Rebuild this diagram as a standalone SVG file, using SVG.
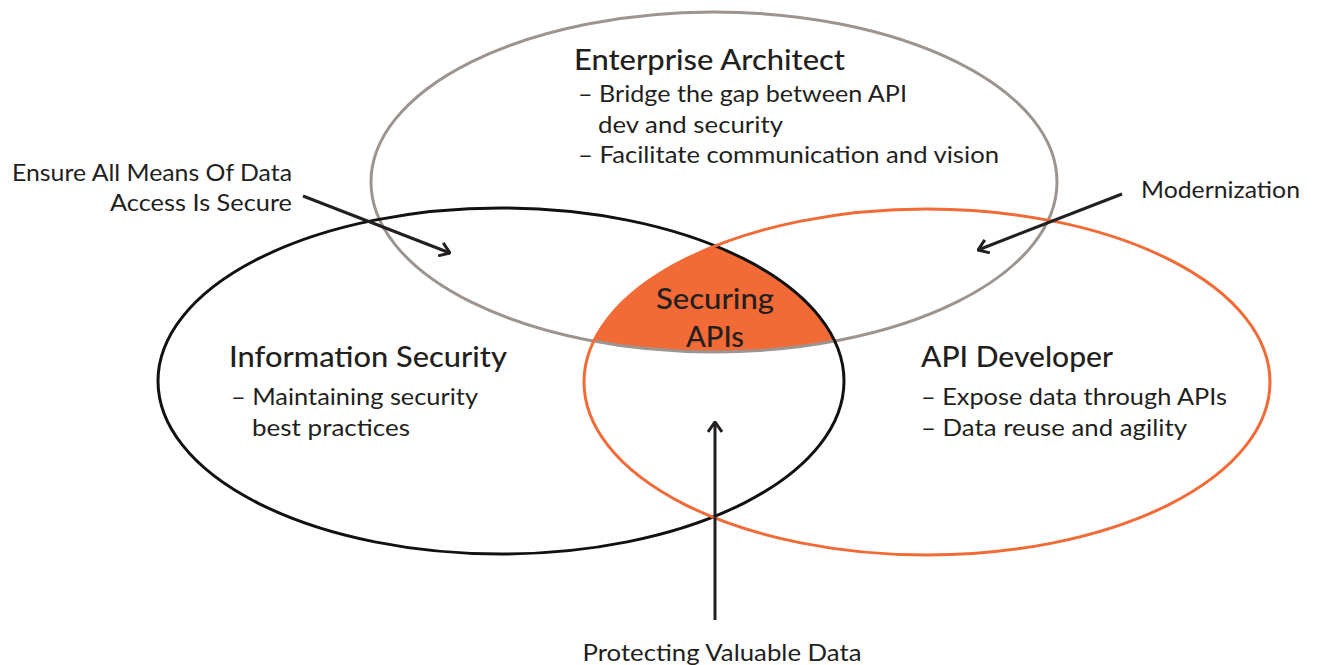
<svg xmlns="http://www.w3.org/2000/svg" width="1317" height="665" viewBox="0 0 1317 665">
  <style>
    .txt { font-family: "Lato", "Liberation Sans", sans-serif; fill: #231f20; }
    .head { font-size: 29.5px; font-weight: 500; }
    .item { font-size: 23.5px; font-weight: 400; }
    .note { font-size: 23px; font-weight: 400; }
    .ring { fill: none; stroke-width: 3; }
    .conn { fill: none; stroke: #231f20; stroke-width: 3; }
  </style>
  <defs>
    <marker id="chev" viewBox="0 0 12 16" refX="11" refY="8" markerWidth="12" markerHeight="16" markerUnits="userSpaceOnUse" orient="auto">
      <path d="M1,1 L11,8 L1,15" fill="none" stroke="#231f20" stroke-width="3"/>
    </marker>
    <clipPath id="clipSec">
      <ellipse cx="501" cy="381" rx="343" ry="173"/>
    </clipPath>
    <clipPath id="clipDev">
      <ellipse cx="927" cy="382" rx="343" ry="173"/>
    </clipPath>
  </defs>

  <rect width="1317" height="665" fill="#ffffff"/>

  <!-- shared region of all three circles -->
  <g id="securing-apis-fill" clip-path="url(#clipSec)">
    <g clip-path="url(#clipDev)">
      <ellipse cx="714" cy="182" rx="343" ry="170" fill="#f26a35"/>
    </g>
  </g>

  <g id="enterprise-architect">
    <ellipse class="ring" cx="714" cy="182" rx="343" ry="170" stroke="#9d948f"/>
    <text class="txt head" x="574" y="70" textLength="271" lengthAdjust="spacingAndGlyphs">Enterprise Architect</text>
    <text class="txt item" x="578" y="102" textLength="329" lengthAdjust="spacingAndGlyphs">– Bridge the gap between API</text>
    <text class="txt item" x="598" y="133" textLength="185" lengthAdjust="spacingAndGlyphs">dev and security</text>
    <text class="txt item" x="578" y="163" textLength="421" lengthAdjust="spacingAndGlyphs">– Facilitate communication and vision</text>
  </g>

  <g id="information-security">
    <ellipse class="ring" cx="501" cy="381" rx="343" ry="173" stroke="#111111"/>
    <text class="txt head" x="229" y="367" textLength="278" lengthAdjust="spacingAndGlyphs">Information Security</text>
    <text class="txt item" x="231" y="405" textLength="247" lengthAdjust="spacingAndGlyphs">– Maintaining security</text>
    <text class="txt item" x="252" y="436" textLength="158" lengthAdjust="spacingAndGlyphs">best practices</text>
  </g>

  <g id="api-developer">
    <ellipse class="ring" cx="927" cy="382" rx="343" ry="173" stroke="#f26a35"/>
    <text class="txt head" x="921" y="367" textLength="192" lengthAdjust="spacingAndGlyphs">API Developer</text>
    <text class="txt item" x="921" y="405" textLength="306" lengthAdjust="spacingAndGlyphs">– Expose data through APIs</text>
    <text class="txt item" x="921" y="436" textLength="266" lengthAdjust="spacingAndGlyphs">– Data reuse and agility</text>
  </g>

  <g id="securing-apis">
    <text class="txt head" x="715" y="309" text-anchor="middle" textLength="118" lengthAdjust="spacingAndGlyphs">Securing</text>
    <text class="txt head" x="715" y="347" text-anchor="middle" textLength="58" lengthAdjust="spacingAndGlyphs">APIs</text>
  </g>

  <g id="labels">
    <text class="txt note" x="292" y="181" text-anchor="end" textLength="280" lengthAdjust="spacingAndGlyphs">Ensure All Means Of Data</text>
    <text class="txt note" x="292" y="211" text-anchor="end" textLength="182" lengthAdjust="spacingAndGlyphs">Access Is Secure</text>
    <text class="txt note" x="1141" y="198" textLength="159" lengthAdjust="spacingAndGlyphs">Modernization</text>
    <text class="txt note" x="722" y="661" text-anchor="middle" textLength="279" lengthAdjust="spacingAndGlyphs">Protecting Valuable Data</text>
  </g>

  <g id="connectors">
    <line class="conn" x1="303" y1="196" x2="450" y2="253" marker-end="url(#chev)"/>
    <line class="conn" x1="1122" y1="194" x2="978" y2="250" marker-end="url(#chev)"/>
    <line class="conn" x1="715" y1="620" x2="715" y2="422" marker-end="url(#chev)"/>
  </g>
</svg>
